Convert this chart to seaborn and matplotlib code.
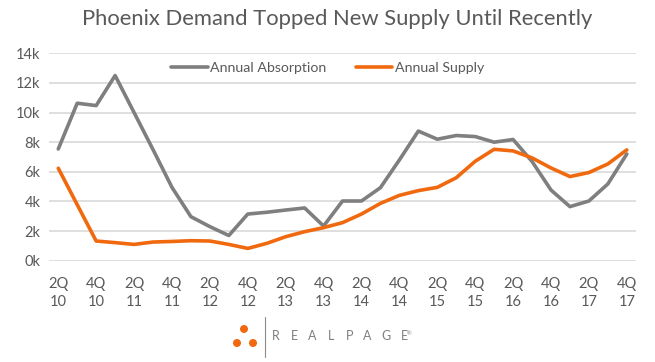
import matplotlib
matplotlib.use("Agg")
import matplotlib.pyplot as plt
from matplotlib.patches import Circle
from matplotlib.lines import Line2D
import seaborn as sns
import pandas as pd
import numpy as np

quarters = ["2Q10", "3Q10", "4Q10",
            "1Q11", "2Q11", "3Q11", "4Q11",
            "1Q12", "2Q12", "3Q12", "4Q12",
            "1Q13", "2Q13", "3Q13", "4Q13",
            "1Q14", "2Q14", "3Q14", "4Q14",
            "1Q15", "2Q15", "3Q15", "4Q15",
            "1Q16", "2Q16", "3Q16", "4Q16",
            "1Q17", "2Q17", "3Q17", "4Q17"]

absorption = [7540, 10630, 10470, 12500, 10000, 7500, 4950,
              2970, 2300, 1700, 3150, 3270, 3420, 3560, 2340,
              4030, 4030, 4930, 6800, 8750, 8200, 8450, 8380,
              8000, 8180, 6700, 4770, 3650, 4030, 5180, 7200]

supply = [6240, 3780, 1330, 1220, 1100, 1260, 1300,
          1350, 1330, 1100, 830, 1170, 1620, 1960, 2230,
          2570, 3150, 3870, 4410, 4730, 4950, 5600, 6710,
          7520, 7410, 6940, 6260, 5680, 5950, 6530, 7480]

tick_labels = ["2Q\n10", "4Q\n10", "2Q\n11", "4Q\n11", "2Q\n12", "4Q\n12",
               "2Q\n13", "4Q\n13", "2Q\n14", "4Q\n14", "2Q\n15", "4Q\n15",
               "2Q\n16", "4Q\n16", "2Q\n17", "4Q\n17"]
y_ticks = [0, 2000, 4000, 6000, 8000, 10000, 12000, 14000]
y_labels = ["0k", "2k", "4k", "6k", "8k", "10k", "12k", "14k"]

series_names = ["Annual Absorption", "Annual Supply"]
colors = ["#7f7f7f", "#f0690f"]

sns.set_theme(style="white")
plt.rcParams["font.family"] = ["Lato", "DejaVu Sans"]

text_color = "#595959"

df = pd.DataFrame({
    "idx": list(range(len(quarters))) * 2,
    "value": absorption + supply,
    "series": [series_names[0]] * len(quarters) + [series_names[1]] * len(quarters),
})

fig = plt.figure(figsize=(6.55, 3.62), dpi=100)
ax = fig.add_axes([0.0745, 0.2798, 0.8969, 0.5730])

sns.lineplot(data=df, x="idx", y="value", hue="series",
             palette=dict(zip(series_names, colors)), linewidth=2.6,
             ax=ax, legend=False)

ax.set_xlim(-0.5, len(quarters) - 0.5)
ax.set_ylim(0, 14000)
ax.set_yticks(y_ticks)
ax.set_yticklabels(y_labels)
ax.set_xticks(list(range(0, len(quarters), 2)))
ax.set_xticklabels(tick_labels, linespacing=1.3)
ax.tick_params(axis="both", length=0, colors=text_color, labelsize=10.5)
ax.tick_params(axis="x", pad=12)
ax.tick_params(axis="y", pad=6)
ax.set_xlabel("")
ax.set_ylabel("")
ax.grid(axis="y", color="#d9d9d9", linewidth=1.2)
ax.grid(axis="x", visible=False)
for s in ax.spines.values():
    s.set_visible(False)
ax.set_axisbelow(True)

handles = [Line2D([], [], color=c, linewidth=2.6) for c in colors]
ax.legend(handles, series_names, loc="center", bbox_to_anchor=(0.474, 0.928),
          ncol=2, frameon=False, fontsize=10.2, handlelength=2.6,
          handletextpad=0.15, columnspacing=2.1, labelcolor=text_color)

fig.text(0.515, 0.948, "Phoenix Demand Topped New Supply Until Recently",
         ha="center", va="center", fontsize=15.8, color=text_color)

# RealPage logo
for (x, y) in [(2.44, 0.33), (2.37, 0.19), (2.53, 0.19)]:
    fig.add_artist(Circle((x, y), 0.033, transform=fig.dpi_scale_trans,
                          color="#f0690f"))
fig.add_artist(Line2D([2.65, 2.65], [0.05, 0.45], transform=fig.dpi_scale_trans,
                      color="#8c8c8c", linewidth=0.8))
for k, letter in enumerate("REALPAGE"):
    fig.text((276 + 18.3 * k) / 655, 0.26 / 3.62, letter, ha="center", va="center",
             fontsize=9, color="#7f7f7f")
fig.text(409 / 655, 0.285 / 3.62, "®", ha="center", va="center",
         fontsize=4, color="#7f7f7f")

fig.savefig("out.png", dpi=100)
